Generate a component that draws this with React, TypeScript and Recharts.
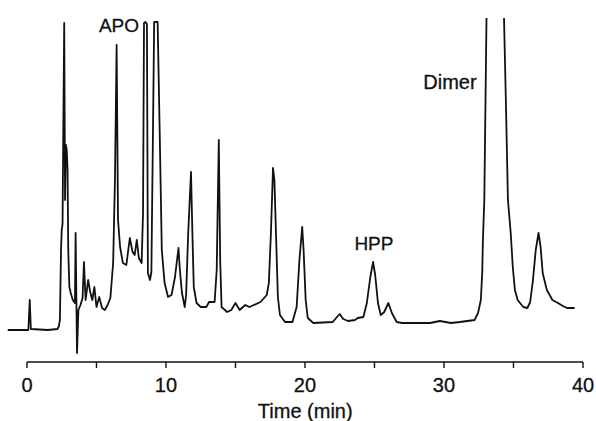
import { LineChart, Line, XAxis, YAxis, ReferenceLine, ReferenceDot } from 'recharts'

// retention time (min) of each traced point
const retentionTime = [
  -1.4, -0.5, 0.1, 0.2, 0.28, 1.5, 2.2, 2.3, 2.37, 2.45,
  2.5, 2.56, 2.62, 2.68, 2.74, 2.8, 2.86, 2.92, 2.97, 3.05,
  3.15, 3.3, 3.45, 3.5, 3.6, 3.7, 3.85, 4.0, 4.1, 4.22,
  4.4, 4.55, 4.7, 4.85, 5.0, 5.2, 5.4, 5.6, 5.8, 6.0,
  6.2, 6.33, 6.45, 6.55, 6.7, 6.9, 7.15, 7.4, 7.6, 7.75,
  7.9, 8.05, 8.25, 8.35, 8.42, 8.52, 8.63, 8.7, 8.85, 8.95,
  9.05, 9.15, 9.4, 9.55, 9.7, 9.9, 10.15, 10.4, 10.65, 10.9,
  11.0, 11.15, 11.35, 11.45, 11.6, 11.8, 11.9, 12.0, 12.2, 12.5,
  12.9, 13.1, 13.5, 13.65, 13.8, 13.9, 14.0, 14.4, 14.7, 15.0,
  15.3, 15.7, 16.0, 16.8, 17.25, 17.4, 17.55, 17.7, 17.8, 17.95,
  18.05, 18.2, 18.56, 19.1, 19.4, 19.6, 19.8, 19.9, 20.05, 20.2,
  20.6, 22.0, 22.3, 22.5, 22.75, 23.1, 23.6, 23.8, 24.2, 24.45,
  24.7, 24.9, 25.05, 25.25, 25.45, 25.7, 26.0, 26.25, 26.6, 27.0,
  29.0, 29.7, 30.5, 31.15, 32.2, 32.45, 32.65, 32.75, 32.8, 32.9,
  33.1, 34.24, 34.45, 34.6, 34.8, 34.95, 35.1, 35.3, 35.7, 36.0,
  36.2, 36.4, 36.6, 36.8, 36.95, 37.1, 37.4, 37.8, 38.2, 38.55,
  38.85, 39.4,
]

// detector response (arbitrary units); off-scale peaks run past the top
const detectorSignal = [
  0, 0, 0, 3.0, 0.1, 0, 0.1, 0.4, 1.0, 8.0,
  10.0, 10.6, 21.0, 30.7, 13.0, 18.5, 18.0, 16.0, 8.0, 4.3,
  3.7, 3.0, 2.7, 9.7, -2.3, 2.0, 2.5, 3.2, 6.8, 3.0,
  5.0, 3.8, 3.0, 4.3, 2.3, 3.3, 2.2, 2.0, 2.5, 3.2,
  6.7, 15.0, 28.5, 11.0, 8.3, 6.7, 6.5, 9.2, 7.8, 7.5,
  9.0, 7.2, 6.7, 11.7, 30.7, 30.8, 30.6, 5.7, 5.0, 5.8,
  18.0, 30.8, 30.8, 19.7, 8.0, 4.7, 3.3, 3.5, 5.3, 8.2,
  6.0, 3.7, 2.3, 3.5, 9.7, 15.8, 9.7, 4.3, 2.7, 2.3,
  2.3, 2.8, 2.8, 6.0, 19.0, 7.0, 2.3, 1.8, 2.0, 2.7,
  2.0, 2.5, 2.3, 2.8, 3.5, 4.7, 9.7, 16.2, 15.0, 8.0,
  3.3, 1.5, 0.8, 0.8, 2.3, 7.0, 10.3, 8.0, 3.0, 1.2,
  0.7, 0.8, 1.3, 1.6, 1.1, 0.9, 1.0, 1.2, 1.3, 2.7,
  5.3, 6.8, 5.5, 2.7, 1.5, 1.8, 2.7, 1.7, 0.8, 0.7,
  0.7, 0.9, 0.7, 0.8, 1.0, 1.7, 3.0, 5.7, 9.0, 13.0,
  36.0, 36.0, 23.0, 13.0, 9.7, 6.3, 4.0, 3.0, 2.3, 2.2,
  2.8, 5.0, 8.0, 9.7, 8.3, 5.7, 4.0, 3.0, 2.7, 2.4,
  2.2, 2.2,
]

const timeTicks = [0, 5, 10, 15, 20, 25, 30, 35, 40]

const peakLabels = [
  { name: 'APO', time: 6.62, signal: 30.5, size: 19 },
  { name: 'HPP', time: 24.96, signal: 8.7, size: 19 },
  { name: 'Dimer', time: 30.43, signal: 24.8, size: 20 },
]

const Y_MIN = -3.2
const Y_MAX = 31.2
const INK = '#111'

const data = retentionTime.map((t, i) => ({ t, v: detectorSignal[i] }))

export default function App() {
  return (
    <div style={{ width: 596, height: 421, background: '#fff' }}>
      <style>{'body{margin:0}'}</style>
      <LineChart
        width={596}
        height={421}
        data={data}
        margin={{ top: 18, right: 13, left: 7.5, bottom: 0 }}
        style={{ fontFamily: '"Liberation Sans", Arial, sans-serif' }}
      >
        <XAxis
          dataKey="t"
          type="number"
          domain={[-1.4, 40]}
          allowDataOverflow
          ticks={timeTicks}
          tickFormatter={(v: number) => (v % 10 === 0 ? String(v) : '')}
          tick={{ fontSize: 20, fill: INK, stroke: INK, strokeWidth: 0.3 }}
          tickSize={6}
          tickMargin={10}
          tickLine={{ stroke: INK, strokeWidth: 1.4 }}
          axisLine={false}
          height={59}
          label={{
            value: 'Time (min)', position: 'insideBottom', offset: 3, dx: 10,
            fontSize: 20, fill: INK, stroke: INK, strokeWidth: 0.3,
          }}
        />
        <YAxis hide type="number" domain={[Y_MIN, Y_MAX]} allowDataOverflow />
        <ReferenceLine
          segment={[{ x: 0, y: Y_MIN }, { x: 40, y: Y_MIN }]}
          stroke={INK}
          strokeWidth={1.4}
          ifOverflow="visible"
        />
        <Line
          dataKey="v"
          type="linear"
          stroke={INK}
          strokeWidth={1.8}
          strokeLinejoin="round"
          dot={false}
          isAnimationActive={false}
        />
        {peakLabels.map(p => (
          <ReferenceDot
            key={p.name}
            x={p.time}
            y={p.signal}
            r={0}
            fill="none"
            stroke="none"
            label={{
              value: p.name, position: 'center', fontSize: p.size,
              fill: INK, stroke: INK, strokeWidth: 0.3,
            }}
          />
        ))}
      </LineChart>
    </div>
  )
}
